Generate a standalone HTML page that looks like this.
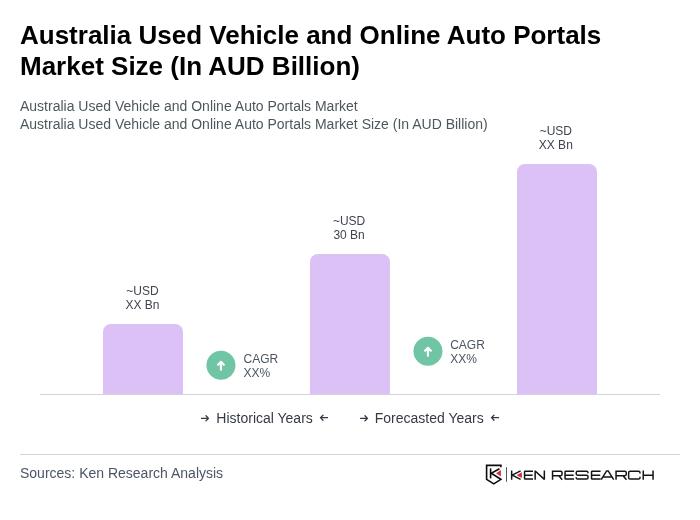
<!DOCTYPE html>
<html><head><meta charset="utf-8">
<style>
*{box-sizing:border-box;margin:0;padding:0}
html,body{width:700px;height:520px;background:#fff;overflow:hidden}
body{font-family:"Liberation Sans",sans-serif;position:relative;color:#000}
.title{position:absolute;left:20px;top:20px;width:660px;font-size:26px;font-weight:bold;line-height:31px;color:#000}
.sub{position:absolute;left:20px;font-size:14px;line-height:18px;color:#4d585c;white-space:nowrap}
.bar{position:absolute;width:80px;background:#dcc1f7;border-radius:8px 8px 0 0}
.lab{position:absolute;width:80px;text-align:center;font-size:12px;line-height:14px;color:#3f4450;margin-left:-0.5px}
.axis{position:absolute;left:40px;top:394px;width:620px;height:1px;background:#d1d5db}
.circ{position:absolute;width:29px;height:29px;border-radius:50%;background:#6dc2a0}
.cagr{position:absolute;font-size:12px;line-height:14px;color:#4b5563}
.leg{position:absolute;top:410px;font-size:14px;line-height:16px;color:#353a46;white-space:nowrap}
.abs{position:absolute;overflow:visible}
.hr{position:absolute;left:20px;top:454px;width:660px;height:1px;background:#d1d5db}
.src{position:absolute;left:20px;top:465px;font-size:14px;line-height:16px;color:#4b5563}
</style></head><body>
<div id="wrap" style="position:absolute;left:0;top:0;width:700px;height:520px;will-change:transform">
<div class="title">Australia Used Vehicle and Online Auto Portals Market Size (In AUD Billion)</div>
<div class="sub" style="top:97px">Australia Used Vehicle and Online Auto Portals Market</div>
<div class="sub" style="top:115px">Australia Used Vehicle and Online Auto Portals Market Size (In AUD Billion)</div>

<div class="lab" style="left:103px;top:284px">~USD<br>XX Bn</div>
<div class="bar" style="left:103px;top:324px;height:70px"></div>
<div class="lab" style="left:309.6px;top:214px">~USD<br>30 Bn</div>
<div class="bar" style="left:310px;top:254px;height:140px"></div>
<div class="lab" style="left:516.3px;top:124px">~USD<br>XX Bn</div>
<div class="bar" style="left:517px;top:164px;height:230px"></div>
<div class="axis"></div>

<svg class="abs" style="left:0;top:0" width="700" height="520"><circle cx="220.95" cy="365.2" r="14.5" fill="#70c5a4"/><path d="M220.95,369.7 V362.0 M218.04999999999998,364.7 L220.95,361.8 L223.85,364.7" fill="none" stroke="#fff" stroke-width="2.2" stroke-linecap="round" stroke-linejoin="round"/></svg>
<div class="cagr" style="left:243.6px;top:352px">CAGR<br>XX%</div>
<svg class="abs" style="left:0;top:0" width="700" height="520"><circle cx="427.95" cy="351.2" r="14.5" fill="#70c5a4"/><path d="M427.95,355.7 V348.0 M425.05,350.7 L427.95,347.8 L430.84999999999997,350.7" fill="none" stroke="#fff" stroke-width="2.2" stroke-linecap="round" stroke-linejoin="round"/></svg>
<div class="cagr" style="left:450.2px;top:338px">CAGR<br>XX%</div>

<div class="leg" style="left:216.33px">Historical Years</div>
<div class="leg" style="left:374.75px">Forecasted Years</div>

<svg class="abs" style="left:0;top:0" width="700" height="520"><g fill="none" stroke="#333844" stroke-width="1.3" stroke-linecap="round" stroke-linejoin="round"><path d="M201.5,418.35 H208.5 M206.0,415.75 L208.5,418.35 L206.0,420.75"/><path d="M327.5,417.65 H320.5 M323.0,415.25 L320.5,417.65 L323.0,420.25"/><path d="M360.5,418.35 H367.5 M365.0,415.75 L367.5,418.35 L365.0,420.75"/><path d="M498.5,417.65 H491.5 M494.0,415.25 L491.5,417.65 L494.0,420.25"/></g></svg>
<div class="hr"></div>
<svg class="abs" style="left:0;top:0;filter:blur(0.3px)" width="700" height="520"><g fill="none" stroke="#151515" stroke-width="1.5" stroke-linejoin="miter"><path d="M511.65,470.6 V479.7 M512.2,475.15 L520.6,470.85 M512.2,475.15 L520.6,479.45"/><path d="M533,471.25 H525.15 Q524.55,471.25 524.55,471.85 V478.45 Q524.55,479.05 525.15,479.05 H533 M524.55,475.15 H532.6"/><path d="M535.15,479.7 V470.6 M535.15,470.95 L544.35,479.35 M544.35,479.7 V470.6" /><path d="M552.55,479.7 V471.25 H560.6500000000001 Q562.0500000000001,471.25 562.0500000000001,472.65 V474.25 Q562.0500000000001,475.65 560.6500000000001,475.65 H552.55 M558.85,475.65 L562.2500000000001,479.7"/><path d="M574.1,471.25 H565.65 Q565.05,471.25 565.05,471.85 V478.45 Q565.05,479.05 565.65,479.05 H574.1 M565.05,475.15 H573.7"/><path d="M588.0,473.15 V472.65 Q588.0,471.25 586.6,471.25 H577.6 Q576.2,471.25 576.2,472.65 V473.75 Q576.2,475.15 577.6,475.15 H586.6 Q588.0,475.15 588.0,476.54999999999995 V477.65000000000003 Q588.0,479.05 586.6,479.05 H577.6 Q576.2,479.05 576.2,477.65000000000003 V477.15000000000003"/><path d="M600.6,471.25 H592.15 Q591.55,471.25 591.55,471.85 V478.45 Q591.55,479.05 592.15,479.05 H600.6 M591.55,475.15 H600.2"/><path d="M601.2,479.7 L606.6,470.95 H608.2 L613.7,479.7 M603.2,477.05 H611.7"/><path d="M616.05,479.7 V471.25 H624.85 Q626.25,471.25 626.25,472.65 V474.25 Q626.25,475.65 624.85,475.65 H616.05 M623.05,475.65 L626.45,479.7"/><path d="M640.0,473.45 V472.65 Q640.0,471.25 638.6,471.25 H630.05 Q628.65,471.25 628.65,472.65 V477.65000000000003 Q628.65,479.05 630.05,479.05 H638.6 Q640.0,479.05 640.0,477.65000000000003 V476.85"/><path d="M643.25,470.6 V479.7 M653.05,470.6 V479.7 M643.25,475.15 H653.05"/></g><path d="M516.6,475.15 L521.9,472.2 V478.1 Z" fill="#d0303a"/><path d="M506.5,467.1 V481.8" stroke="#444" stroke-width="0.9" fill="none"/><g fill="none" stroke="#0c0c0c" stroke-width="1.6" stroke-linejoin="miter"><path d="M500.9,467.2 V465.4 H486.6 V479.3 L493.8,483.9 L500.9,479.3 L491.2,473.2 L499.5,468.8"/><path d="M490.6,468.4 V478.4"/></g><path d="M496.1,473.2 L500.9,470 V476.4 Z" fill="#d0303a"/></svg>
<div class="src">Sources: Ken Research Analysis</div>
</div>
</body></html>
